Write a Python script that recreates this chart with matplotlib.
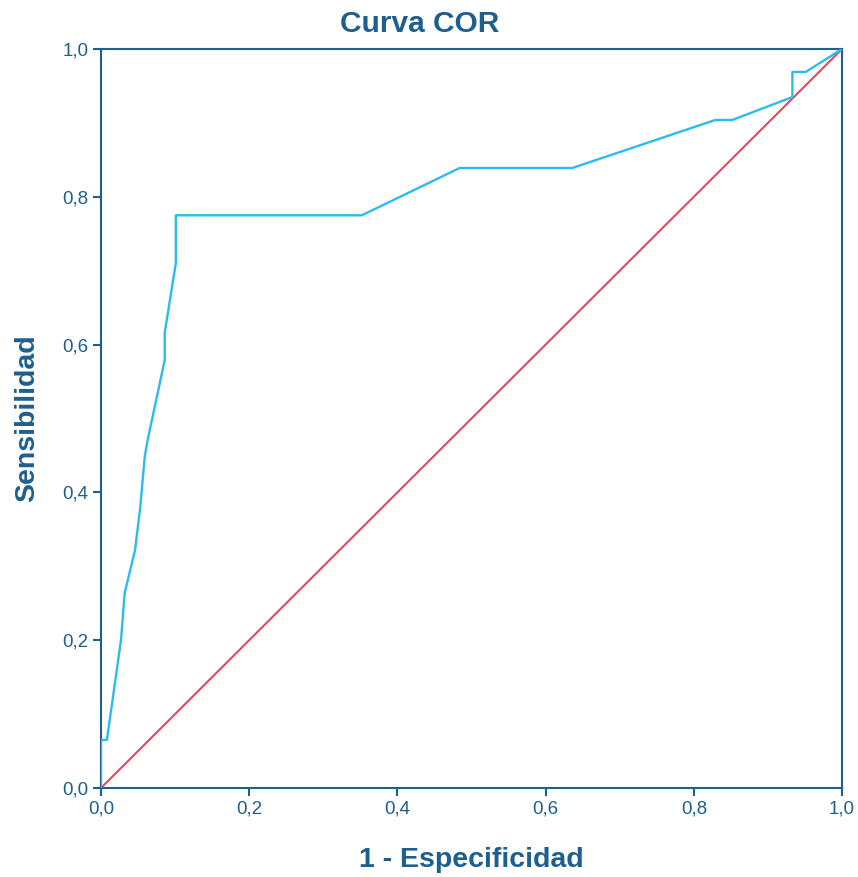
import matplotlib
matplotlib.use("Agg")
import matplotlib.pyplot as plt
from matplotlib.ticker import FuncFormatter

# ROC curve points (1 - specificity, sensitivity)
fpr = [0.0, 0.0, 0.008, 0.027, 0.032, 0.046, 0.053, 0.059, 0.063, 0.086, 0.086,
       0.101, 0.101, 0.352, 0.484, 0.636, 0.829, 0.852, 0.933, 0.933, 0.951, 1.0]
tpr = [0.0, 0.065, 0.065, 0.200, 0.264, 0.322, 0.380, 0.448, 0.471, 0.579, 0.616,
       0.710, 0.775, 0.775, 0.839, 0.839, 0.904, 0.904, 0.935, 0.969, 0.969, 1.0]
ref_line = [0.0, 1.0]
ticks = [0.0, 0.2, 0.4, 0.6, 0.8, 1.0]

dark = "#1d5f8e"
curve_col = "#2bbbf0"
diag_col = "#e04a5e"

plt.rcParams['font.family'] = ['Liberation Sans', 'DejaVu Sans']

fig = plt.figure(figsize=(8.58, 8.77), dpi=100)
ax = fig.add_axes([0.1177, 0.1015, 0.8637, 0.8426])

ax.plot(ref_line, ref_line, color=diag_col, lw=1.5, zorder=2)
ax.plot(fpr, tpr, color=curve_col, lw=1.7, zorder=3)

ax.set_xlim(0, 1)
ax.set_ylim(0, 1)
ax.set_xticks(ticks)
ax.set_yticks(ticks)
fmt = FuncFormatter(lambda v, p: f"{v:.1f}".replace(".", ","))
ax.xaxis.set_major_formatter(fmt)
ax.yaxis.set_major_formatter(fmt)

for s in ax.spines.values():
    s.set_color(dark)
    s.set_linewidth(1.5)
ax.tick_params(direction='out', length=6, width=1.5, color=dark,
               labelcolor=dark, labelsize=13.5, pad=3)

fig.text(0.4895, 0.973, "Curva COR", fontsize=21.5, fontweight='bold', color=dark,
         ha='center', va='center')
fig.text(0.549, 0.0194, "1 - Especificidad", fontsize=20.5, fontweight='bold', color=dark,
         ha='center', va='center')
fig.text(0.0315, 0.523, "Sensibilidad", fontsize=20.5, fontweight='bold', color=dark,
         ha='center', va='center', rotation=90)

fig.savefig("out.png", dpi=100)
